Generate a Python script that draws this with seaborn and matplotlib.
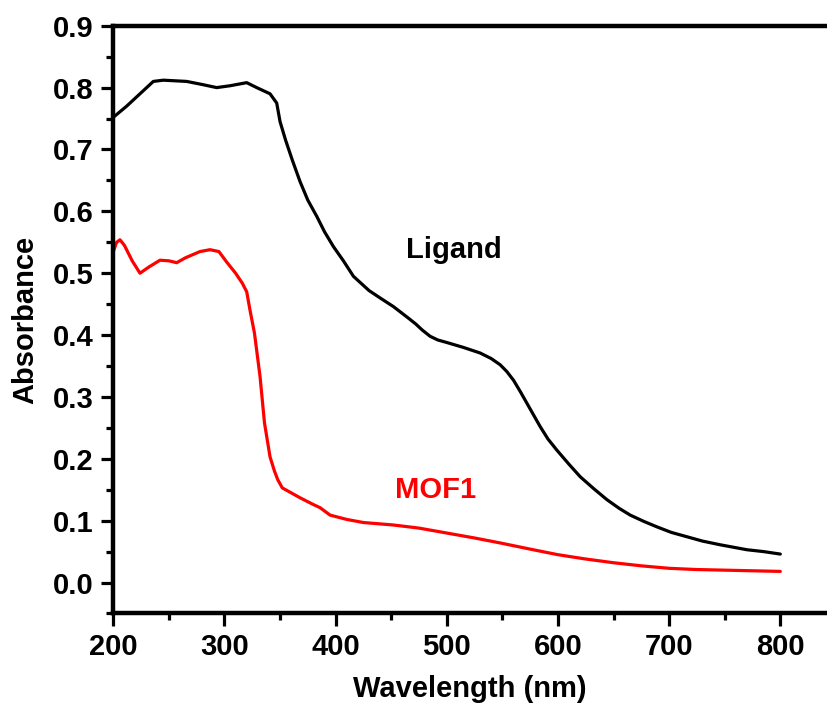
import numpy as np
import pandas as pd
import matplotlib
matplotlib.use('Agg')
import matplotlib.pyplot as plt
from matplotlib.ticker import MultipleLocator, FormatStrFormatter
import seaborn as sns

# ── Data ──────────────────────────────────────────────────────────────────────
ligand_wl = [200, 212, 224, 236, 245, 266, 280, 293, 305, 320, 329, 341, 347,
             350, 355, 361, 368, 375, 383, 390, 398, 407, 416, 430, 440, 452,
             465, 472, 478, 485, 492, 500, 515, 530, 540, 548, 554, 560, 566,
             572, 578, 584, 591, 599, 610, 620, 632, 644, 655, 665, 677, 689,
             702, 716, 730, 746, 770, 785, 800]
ligand_abs = [0.752, 0.770, 0.790, 0.810, 0.812, 0.810, 0.805, 0.800, 0.803,
              0.808, 0.800, 0.790, 0.775, 0.745, 0.715, 0.683, 0.648, 0.618,
              0.592, 0.567, 0.543, 0.520, 0.495, 0.472, 0.460, 0.446, 0.428,
              0.418, 0.408, 0.398, 0.392, 0.388, 0.380, 0.371, 0.362, 0.352,
              0.341, 0.327, 0.309, 0.290, 0.271, 0.252, 0.232, 0.214, 0.191,
              0.171, 0.152, 0.134, 0.120, 0.109, 0.099, 0.090, 0.081, 0.074,
              0.067, 0.061, 0.053, 0.050, 0.046]

mof_wl = [200, 203, 206, 210, 217, 224, 232, 242, 250, 257, 265, 278, 287, 295,
          302, 310, 316, 320, 323, 327, 332, 336, 341, 345, 348, 352, 360, 368,
          380, 386, 395, 410, 425, 452, 475, 500, 525, 548, 575, 600, 625, 650,
          675, 700, 725, 750, 775, 800]
mof_abs = [0.535, 0.550, 0.554, 0.545, 0.520, 0.500, 0.510, 0.521, 0.520, 0.517,
           0.525, 0.535, 0.538, 0.535, 0.518, 0.500, 0.484, 0.470, 0.440, 0.403,
           0.333, 0.258, 0.203, 0.180, 0.166, 0.153, 0.145, 0.137, 0.126, 0.121,
           0.109, 0.102, 0.097, 0.093, 0.088, 0.080, 0.072, 0.064, 0.054, 0.045,
           0.038, 0.032, 0.027, 0.023, 0.021, 0.020, 0.019, 0.018]

COLORS = {'Ligand': 'black', 'MOF1': '#ff0000'}

sns.set_style('ticks')
plt.rcParams.update({
    'font.family': ['Liberation Sans', 'DejaVu Sans'],
    'font.weight': 'bold',
    'axes.labelweight': 'bold',
    'axes.edgecolor': 'black',
    'axes.labelcolor': 'black',
    'xtick.color': 'black',
    'ytick.color': 'black',
    'text.color': 'black',
})

df = pd.concat([
    pd.DataFrame({'wl': ligand_wl, 'A': ligand_abs, 'sample': 'Ligand'}),
    pd.DataFrame({'wl': mof_wl, 'A': mof_abs, 'sample': 'MOF1'}),
])

fig = plt.figure(figsize=(8.27, 7.15), dpi=100)
ax = fig.add_axes([0.137, 0.142, 0.863, 0.822])

sns.lineplot(data=df, x='wl', y='A', hue='sample', palette=COLORS,
             estimator=None, sort=False, linewidth=2.3, legend=False, ax=ax)

ax.set_xlim(200, 842)
ax.set_ylim(-0.05, 0.9)
ax.xaxis.set_major_locator(MultipleLocator(100))
ax.xaxis.set_minor_locator(MultipleLocator(50))
ax.yaxis.set_major_locator(MultipleLocator(0.1))
ax.yaxis.set_minor_locator(MultipleLocator(0.05))
ax.yaxis.set_major_formatter(FormatStrFormatter('%.1f'))

for side in ('left', 'bottom', 'top'):
    ax.spines[side].set_linewidth(3.2)
ax.spines['right'].set_visible(False)
ax.tick_params(which='major', direction='out', length=9, width=2.3,
               labelsize=21, pad=5)
ax.tick_params(which='minor', direction='out', length=5, width=2.3)
for lab in ax.get_xticklabels() + ax.get_yticklabels():
    lab.set_fontweight('bold')

ax.set_xlabel('Wavelength (nm)', fontsize=21, fontweight='bold', labelpad=10)
ax.set_ylabel('Absorbance', fontsize=21, fontweight='bold', labelpad=10)

ax.text(463, 0.525, 'Ligand', fontsize=21, fontweight='bold', color='black')
ax.text(453, 0.137, 'MOF1', fontsize=21, fontweight='bold', color='#ff0000')

fig.savefig('out.png', dpi=100)
